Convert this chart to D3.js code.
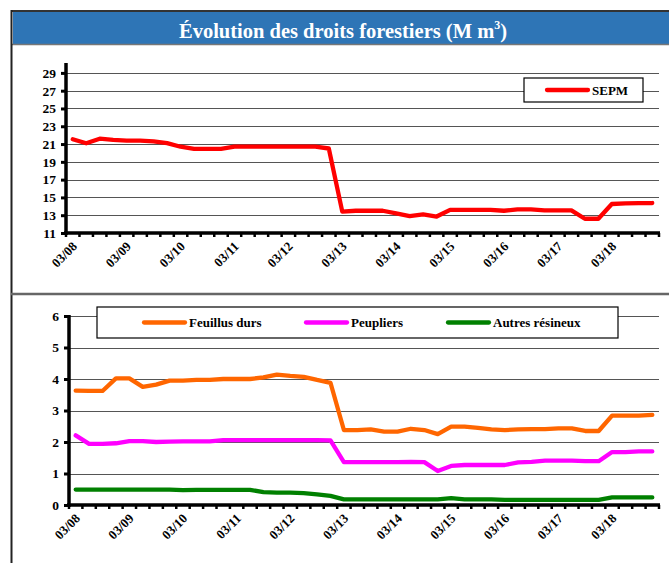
<!DOCTYPE html>
<html><head><meta charset="utf-8">
<script src="https://cdn.jsdelivr.net/npm/d3@7"></script>
<style>
html,body{margin:0;padding:0;background:#fff;}
svg{display:block;}
svg text{font-family:"Liberation Serif","DejaVu Serif",serif !important;}
</style></head>
<body>
<svg id="c" width="669" height="563"></svg>
<script>
// ---- data ----
const years = ["08","09","10","11","12","13","14","15","16","17","18"];
const months = ["03","06","09","12"];
const quarters = years.flatMap(y => months.map(m => m + "/" + y));
const sepm = [21.54,21.09,21.6,21.46,21.38,21.38,21.3,21.1,20.7,20.45,20.45,20.45,20.7,20.7,20.7,20.7,20.7,20.7,20.7,20.5,
  13.4,13.5,13.5,13.5,13.2,12.9,13.1,12.85,13.6,13.6,13.6,13.6,13.5,13.65,13.65,13.55,13.55,13.55,12.6,12.6,14.26,14.33,14.36,14.37];
const feuillus = [3.63,3.62,3.62,4.02,4.02,3.75,3.82,3.95,3.95,3.97,3.97,4.0,4.0,4.0,4.05,4.14,4.1,4.07,3.97,3.88,
  2.38,2.38,2.4,2.33,2.33,2.42,2.38,2.25,2.49,2.49,2.45,2.4,2.38,2.4,2.41,2.41,2.43,2.43,2.35,2.35,2.84,2.84,2.84,2.86];
const peupliers = [2.21,1.94,1.94,1.96,2.03,2.03,2.0,2.01,2.02,2.02,2.02,2.06,2.06,2.06,2.06,2.06,2.06,2.06,2.06,2.05,
  1.36,1.36,1.36,1.36,1.36,1.37,1.36,1.08,1.24,1.27,1.27,1.27,1.27,1.35,1.37,1.41,1.41,1.41,1.39,1.39,1.68,1.68,1.7,1.7];
const resineux = [0.49,0.49,0.49,0.49,0.49,0.49,0.49,0.49,0.47,0.48,0.48,0.48,0.48,0.48,0.41,0.39,0.39,0.38,0.34,0.29,
  0.18,0.18,0.18,0.18,0.18,0.18,0.18,0.18,0.22,0.18,0.18,0.18,0.16,0.16,0.16,0.16,0.16,0.16,0.16,0.16,0.24,0.24,0.24,0.24];
const topTicks = [11,13,15,17,19,21,23,25,27,29];
const bottomTicks = [0,1,2,3,4,5,6];
const title = "Évolution des droits forestiers (M m";

const svg = d3.select("#c");

// frame & banner
svg.append("rect").attr("x",13).attr("y",12).attr("width",660).attr("height",32).attr("fill","#2E75B6");
svg.append("line").attr("x1",11).attr("x2",669).attr("y1",11).attr("y2",11).attr("stroke","#333").attr("stroke-width",2);
svg.append("line").attr("x1",12).attr("x2",669).attr("y1",44.5).attr("y2",44.5).attr("stroke","#777").attr("stroke-width",1.5);
svg.append("line").attr("x1",11.5).attr("x2",11.5).attr("y1",10).attr("y2",563).attr("stroke","#222").attr("stroke-width",2);
svg.append("line").attr("x1",11).attr("x2",669).attr("y1",294).attr("y2",294).attr("stroke","#666").attr("stroke-width",2.5);

const t = svg.append("text").attr("x",343).attr("y",38).attr("text-anchor","middle")
  .attr("fill","#fff").attr("font-weight","bold").attr("font-size",20.5).text(title);
t.append("tspan").attr("font-size",12).attr("dy",-9).text("3");
t.append("tspan").attr("dy",9).text(")");

function panel(opt){
  const x = d3.scaleBand().domain(quarters).range([opt.x0, 659]).padding(0);
  const y = d3.scaleLinear().domain(opt.domain).range([opt.y0, opt.y1]);
  const g = svg.append("g");
  // gridlines
  g.selectAll(".grid").data(opt.ticks.filter(d => d !== opt.domain[0])).enter().append("line")
    .attr("x1",opt.x0).attr("x2",659).attr("y1",d=>Math.round(y(d))+0.5).attr("y2",d=>Math.round(y(d))+0.5)
    .attr("stroke","#555").attr("stroke-width",1.2);
  // y axis
  const ya = d3.axisLeft(y).tickValues(opt.ticks).tickSize(5).tickPadding(5).tickFormat(d3.format("d"));
  const yg = g.append("g").attr("transform",`translate(${opt.x0},0)`).call(ya);
  yg.select(".domain").remove();
  yg.selectAll(".tick line").attr("stroke","#000").attr("stroke-width",3);
  yg.selectAll(".tick text").attr("font-weight","bold").attr("font-size",13.5).attr("fill","#000");
  g.append("line").attr("x1",opt.x0).attr("x2",opt.x0).attr("y1",opt.y1-1).attr("y2",opt.y0+2).attr("stroke","#000").attr("stroke-width",3.5);
  // x axis
  g.append("line").attr("x1",opt.x0-2).attr("x2",660).attr("y1",opt.y0).attr("y2",opt.y0).attr("stroke","#000").attr("stroke-width",3.5);
  const bounds = quarters.map(q => x(q)).concat([x.range()[1]]);
  g.selectAll(".xt").data(bounds).enter().append("line")
    .attr("x1",d=>d).attr("x2",d=>d).attr("y1",opt.y0).attr("y2",opt.y0+4).attr("stroke","#000").attr("stroke-width",2.5);
  g.selectAll(".xl").data(quarters.filter(q => q.startsWith("03/"))).enter().append("text")
    .attr("transform",d=>`translate(${x(d)+x.bandwidth()/2+2},${opt.y0+11}) rotate(-45)`)
    .attr("text-anchor","end").attr("dy","0.35em")
    .attr("font-weight","bold").attr("font-size",13).text(d=>d);
  // lines
  const line = d3.line().x((d,i)=>x(quarters[i])+x.bandwidth()/2).y(d=>y(d));
  opt.series.forEach(s => {
    g.append("path").datum(s.values).attr("d",line).attr("fill","none")
      .attr("stroke",s.color).attr("stroke-width",4.3).attr("stroke-linejoin","round").attr("stroke-linecap","round");
  });
  // legend
  const L = opt.legend;
  g.append("rect").attr("x",L.x).attr("y",L.y).attr("width",L.w).attr("height",L.h)
    .attr("fill","#fff").attr("stroke","#000").attr("stroke-width",1.2);
  opt.series.forEach((s,i) => {
    const lx = L.items[i];
    g.append("line").attr("x1",lx).attr("x2",lx+41).attr("y1",L.y+L.h/2).attr("y2",L.y+L.h/2)
      .attr("stroke",s.color).attr("stroke-width",4.3).attr("stroke-linecap","round");
    g.append("text").attr("x",lx+45).attr("y",L.y+L.h/2).attr("dy","0.35em")
      .attr("font-weight","bold").attr("font-size",13).text(s.name);
  });
}

panel({x0:66, y0:233, y1:64, domain:[11,30], ticks:topTicks,
  series:[{name:"SEPM", values:sepm, color:"#FF0000"}],
  legend:{x:524, y:78, w:119, h:24, items:[547]}});

panel({x0:69, y0:505, y1:316, domain:[0,6], ticks:bottomTicks,
  series:[{name:"Feuillus durs", values:feuillus, color:"#FF6600"},
          {name:"Peupliers", values:peupliers, color:"#FF00FF"},
          {name:"Autres résineux", values:resineux, color:"#008000"}],
  legend:{x:97, y:307, w:521, h:31, items:[144,306,448]}});
</script>
</body></html>
